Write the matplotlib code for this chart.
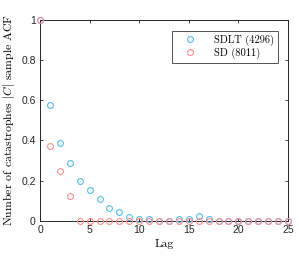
import matplotlib
matplotlib.use("Agg")
import matplotlib.pyplot as plt
import numpy as np

plt.rcParams["mathtext.fontset"] = "cm"
plt.rcParams["font.family"] = ["Liberation Sans", "DejaVu Sans"]

lags = np.arange(0, 26)
acf_sdlt = [1.0, 0.576, 0.386, 0.286, 0.197, 0.154, 0.108, 0.063, 0.043, 0.021,
            0.008, 0.008, 0.0, 0.0, 0.01, 0.012, 0.025, 0.01, 0.0, 0.0,
            0.0, 0.0, 0.0, 0.0, 0.0, 0.0]
acf_sd = [1.0, 0.372, 0.25, 0.124] + [0.0] * 22
labels = ["SDLT (4296)", "SD (8011)"]
xticks = [0, 5, 10, 15, 20, 25]
yticks = [0, 0.2, 0.4, 0.6, 0.8, 1]
yticklabels = ["0", "0.2", "0.4", "0.6", "0.8", "1"]

blue = "#4DBEEE"
red = "#FF8C8C"

fig = plt.figure(figsize=(2.99, 2.57), dpi=100)
ax = fig.add_axes([40 / 299, 1 - 221 / 257, 248 / 299, 201.5 / 257])

ax.plot(lags, acf_sdlt, "o", mfc="none", mec=blue, ms=4.2, mew=0.8,
        clip_on=False, label=labels[0], zorder=3)
ax.plot(lags, acf_sd, "o", mfc="none", mec=red, ms=4.2, mew=0.8,
        clip_on=False, label=labels[1], zorder=4)

ax.set_xlim(0, 25)
ax.set_ylim(0, 1)
ax.set_xticks(xticks)
ax.set_yticks(yticks)
ax.set_yticklabels(yticklabels)
ax.tick_params(direction="in", top=True, right=True, length=2.5, width=0.6,
               labelsize=7.5, colors="#262626", pad=3)
for s in ax.spines.values():
    s.set_linewidth(0.7)
    s.set_color("#262626")

ax.set_xlabel("Lag", fontfamily="cmr10", fontsize=8.5, labelpad=3)
ax.set_ylabel("Number of catastrophes $|C|$ sample ACF", fontfamily="cmr10",
              fontsize=8.5, labelpad=3)

leg = ax.legend(loc="upper right", bbox_to_anchor=(0.96, 0.945),
                borderaxespad=0,
                prop={"family": "cmr10", "size": 7.5}, frameon=True,
                fancybox=False, edgecolor="#262626", handletextpad=0.9,
                borderpad=0.35, labelspacing=0.2, handlelength=2.8)
leg.get_frame().set_linewidth(0.7)

fig.savefig("out.png", dpi=100)
